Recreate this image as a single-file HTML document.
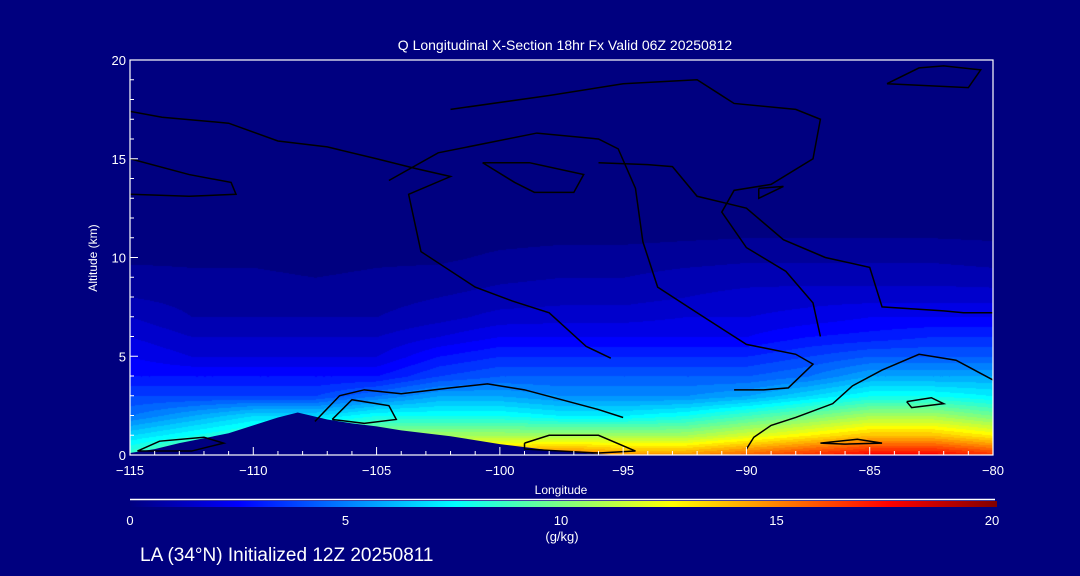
<!DOCTYPE html>
<html><head><meta charset="utf-8"><style>
html,body{margin:0;padding:0;background:#00007f;}
body{width:1080px;height:576px;overflow:hidden;font-family:"Liberation Sans",sans-serif;}
</style></head><body>
<svg id="chart" width="1080" height="576" xmlns="http://www.w3.org/2000/svg" style="position:absolute;left:0;top:0">
<defs>
<linearGradient id="jet" x1="0" x2="1" y1="0" y2="0">
<stop offset="0" stop-color="#000080"/><stop offset="0.125" stop-color="#0000ff"/>
<stop offset="0.375" stop-color="#00ffff"/><stop offset="0.625" stop-color="#ffff00"/>
<stop offset="0.875" stop-color="#ff0000"/><stop offset="1" stop-color="#800000"/>
</linearGradient>
<clipPath id="plotclip"><rect x="130" y="60" width="863" height="395"/></clipPath>
</defs>
<rect width="1080" height="576" fill="#00007f"/>
<foreignObject x="130" y="60" width="863" height="395"><canvas xmlns="http://www.w3.org/1999/xhtml" id="field" width="863" height="395" style="display:block"></canvas></foreignObject>
<g id="terrain" clip-path="url(#plotclip)"></g>
<g id="contours" clip-path="url(#plotclip)" fill="none" stroke="#000" stroke-width="1.5"></g>
<g id="axes" stroke="#fff" fill="#fff"></g>
<text x="565" y="50" fill="#fff" font-size="14" text-anchor="middle">Q Longitudinal X-Section 18hr  Fx Valid 06Z 20250812</text>
<text x="97" y="258" fill="#fff" font-size="12" text-anchor="middle" transform="rotate(-90 97 258)">Altitude (km)</text>
<text x="561" y="494" fill="#fff" font-size="12" text-anchor="middle">Longitude</text>
<line x1="130" y1="499.5" x2="995" y2="499.5" stroke="#fff" stroke-width="1.5"/>
<rect x="130" y="501" width="867" height="6" fill="url(#jet)"/>
<g id="cbticks" fill="#fff" font-size="13" text-anchor="middle"></g>
<text x="562" y="541" fill="#fff" font-size="13" text-anchor="middle">(g/kg)</text>
<text x="140" y="561" fill="#fff" font-size="19">LA (34°N) Initialized 12Z 20250811</text>
</svg>
<script>
const lons=[-115,-112.5,-110,-107.5,-105,-102.5,-100,-97.5,-95,-92.5,-90,-87.5,-85,-82.5,-80];
const alts=[0,1,2,3,4,5,6,7,8,9,10,12,20];
const q0=[9,11,12,12,13,14,15,16,15,15,16,17,18,18,17];
const q1=[7,8,9,10,11,11,11,11,11,11,12,13,14,14,13];
const q2=[5,6,7,7,8,8,8,7.5,7.5,8,9,10,11,11,10];
const q3=[4,4,4,4,5,6,6,5.5,5.5,5.5,6,7,8,8,7.5];
const q4=[3,3,3,3,3,4,4.5,4.5,4.5,4.5,4.5,5,6,6,6];
const q5=[2.5,2,2,2,2,3,3.5,3.5,3.5,3.5,3.5,4,4.5,4.5,4.5];
const q6=[2,1.5,1.5,1.5,1.5,2,2.5,2.5,2.5,2.5,2.5,3,3.2,3.5,3.5];
const q7=[1.5,1,1,1,1,1.3,1.7,1.8,1.8,2,2,2.2,2.5,2.5,2.5];
const q8=[1,0.8,0.8,0.7,0.8,1,1.2,1.3,1.3,1.5,1.7,1.8,1.8,1.8,1.8];
const q9=[0.7,0.6,0.6,0.5,0.6,0.7,0.9,1,1,1.2,1.3,1.3,1.3,1.3,1.2];
const q10=[0.4,0.4,0.4,0.3,0.4,0.4,0.6,0.7,0.7,0.8,0.9,0.9,0.9,0.9,0.8];
const q12=[0.1,0.1,0.1,0.1,0.1,0.1,0.1,0.1,0.1,0.1,0.1,0.1,0.1,0.1,0.1];
const q20=[0,0,0,0,0,0,0,0,0,0,0,0,0,0,0];
const terrainLon=[-115,-114,-113,-112,-111,-110,-109,-108.2,-107,-106,-105,-104,-102,-100,-98,-96,-95,-80];
const terrainAlt=[0.1,0.3,0.6,0.85,1.1,1.5,1.9,2.15,1.8,1.6,1.45,1.25,0.95,0.55,0.25,0.05,0,0];
const xTicks=[-115,-110,-105,-100,-95,-90,-85,-80];
const yTicks=[0,5,10,15,20];
const cbTicks=[0,5,10,15,20];
const contourA={lon:[-90,-89.7,-89,-88,-86.5,-85.7,-84.5,-83,-81.5,-80],alt:[0.3,0.9,1.5,1.9,2.6,3.5,4.3,5.1,4.8,3.8]};
const contourB={lon:[-107.5,-106.5,-105.5,-104,-102,-100.5,-99,-97.5,-96,-95],alt:[1.7,3,3.3,3.1,3.4,3.6,3.3,2.8,2.3,1.9]};
const contourC={lon:[-106.8,-106,-104.5,-104.2,-105.5,-106.8],alt:[1.8,2.8,2.5,1.8,1.6,1.8]};
const contourD={lon:[-99,-98,-96,-94.5,-96,-99,-99],alt:[0.6,1,1,0.2,0.1,0.3,0.6]};
const contourE={lon:[-115,-112.6,-110.9,-110.7,-112.6,-115],alt:[15,14.2,13.8,13.2,13.1,13.2]};
const contourF={lon:[-115,-113.7,-111,-109,-107,-105,-103.4,-102,-103.7,-103.2,-101,-99.5,-98,-96.5,-95.5],alt:[17.4,17.1,16.8,15.9,15.6,15,14.5,14.1,13.2,10.3,8.5,7.8,7.2,5.5,4.9]};
const contourG={lon:[-102,-98,-95,-92,-90.5,-88,-87,-87.3,-89,-90.5,-91,-90,-88.4,-87.3,-87],alt:[17.5,18.2,18.8,19,17.8,17.5,17,15,13.7,13.4,12.3,10.5,9.3,7.7,6]};
const contourH={lon:[-100.7,-98.8,-96.6,-97,-98.6,-99.4,-100.7],alt:[14.8,14.8,14.2,13.3,13.3,13.8,14.8]};
const contourI={lon:[-96,-94,-93,-92,-90,-88.5,-86.8,-85,-84.5,-82,-81.2,-80],alt:[14.8,14.7,14.6,13.1,12.5,10.9,10,9.5,7.5,7.3,7.2,7.2]};
const contourJ={lon:[-104.5,-102.5,-98.5,-96,-95.2,-94.5,-94.2,-93.6,-92,-90,-88,-87.3,-88.3,-89.3,-90.5],alt:[13.9,15.3,16.3,16,15.5,13.5,10.8,8.5,7.2,5.6,5.1,4.6,3.4,3.3,3.3]};
const contourK={lon:[-84.3,-81,-80.5,-82,-83,-84.3],alt:[18.8,18.6,19.5,19.7,19.6,18.8]};
const contourL={lon:[-89.5,-88.5,-89.5,-89.5],alt:[13.5,13.6,13,13.5]};
const contourM={lon:[-83.5,-82.5,-82,-83.3,-83.5],alt:[2.7,2.9,2.6,2.4,2.7]};
const contourN={lon:[-87,-85.5,-84.5,-86,-87],alt:[0.6,0.8,0.6,0.55,0.6]};
const contourO={lon:[-114.7,-113.8,-112,-111.2,-112.5,-114.7],alt:[0.2,0.7,0.9,0.6,0.2,0.2]};

const X0=130,X1=993,Y0=455,Y1=60;
function xs(lon){return X0+(lon+115)/35*(X1-X0);}
function ys(a){return Y0-a/20*(Y0-Y1);}
function jet(v){let t=Math.max(0,Math.min(1,v/20));
 const st=[[0,0,0,128],[0.125,0,0,255],[0.375,0,255,255],[0.625,255,255,0],[0.875,255,0,0],[1,128,0,0]];
 for(let i=1;i<st.length;i++){if(t<=st[i][0]){const a=st[i-1],b=st[i],f=(t-a[0])/(b[0]-a[0]);return [a[1]+f*(b[1]-a[1]),a[2]+f*(b[2]-a[2]),a[3]+f*(b[3]-a[3])];}}
 return [128,0,0];}
const rows=[q0,q1,q2,q3,q4,q5,q6,q7,q8,q9,q10,q12,q20];
function qAt(lon,a){
 let i=0;while(i<lons.length-2&&lon>lons[i+1])i++;
 let fx=Math.max(0,Math.min(1,(lon-lons[i])/(lons[i+1]-lons[i])));
 let j=0;while(j<alts.length-2&&a>alts[j+1])j++;
 let fy=Math.max(0,Math.min(1,(a-alts[j])/(alts[j+1]-alts[j])));
 const v00=rows[j][i],v10=rows[j][i+1],v01=rows[j+1][i],v11=rows[j+1][i+1];
 return (v00*(1-fx)+v10*fx)*(1-fy)+(v01*(1-fx)+v11*fx)*fy;}
const cv=document.getElementById('field'),ctx=cv.getContext('2d');
const img=ctx.createImageData(863,395);
for(let py=0;py<395;py++){const a=(395-py)/395*20;
 for(let px=0;px<863;px++){const lon=-115+px/863*35;let v=qAt(lon,a);
  v=Math.floor(v/0.5)*0.5;const c=jet(v);const k=(py*863+px)*4;
  img.data[k]=c[0];img.data[k+1]=c[1];img.data[k+2]=c[2];img.data[k+3]=255;}}
ctx.putImageData(img,0,0);
const NS='http://www.w3.org/2000/svg';
let tp='M'+xs(-115)+','+ys(0);
terrainLon.forEach((l,i)=>{tp+=' L'+xs(l)+','+ys(terrainAlt[i]);});
tp+=' L'+xs(-80)+','+ys(0)+' Z';
const ter=document.createElementNS(NS,'path');
ter.setAttribute('d',tp);ter.setAttribute('fill','#00007f');


document.getElementById('terrain').appendChild(ter);
const cg=document.getElementById('contours');
[contourA,contourB,contourC,contourD,contourE,contourF,contourG,contourH,contourI,contourJ,contourK,contourL,contourM,contourN,contourO].forEach((c,ci)=>{
 const p=document.createElementNS(NS,'polyline');
 p.setAttribute('points',c.lon.map((l,i)=>xs(l)+','+ys(c.alt[i])).join(' '));
 
 
 cg.appendChild(p);});
const ax=document.getElementById('axes');
function el(tag,attrs){const e=document.createElementNS(NS,tag);for(const k in attrs)e.setAttribute(k,attrs[k]);ax.appendChild(e);return e;}
const fr=el('rect',{x:X0,y:Y1,width:X1-X0,height:Y0-Y1,fill:'none','stroke-width':1.2});


for(let l=-115;l<=-80;l+=1){const big=l%5===0;el('line',{x1:xs(l),x2:xs(l),y1:Y0,y2:Y0-(big?8:4),'stroke-width':1});}
for(let a=0;a<=20;a+=1){const big=a%5===0;el('line',{x1:X0,x2:X0+(big?8:4),y1:ys(a),y2:ys(a),'stroke-width':1});}
xTicks.forEach(l=>{const t=el('text',{x:xs(l),y:475,'font-size':13,'text-anchor':'middle',stroke:'none'});t.textContent=(l<0?'\u2212'+(-l):l);
 
 });
yTicks.forEach(a=>{const t=el('text',{x:X0-4,y:ys(a)+5,'font-size':13,'text-anchor':'end',stroke:'none'});t.textContent=a;
 
 });
const cb=document.getElementById('cbticks');
cbTicks.forEach(v=>{const t=document.createElementNS(NS,'text');t.setAttribute('x',130+v/20*862);t.setAttribute('y',525);t.textContent=v;
 
 
 cb.appendChild(t);});
</script>
</body></html>
